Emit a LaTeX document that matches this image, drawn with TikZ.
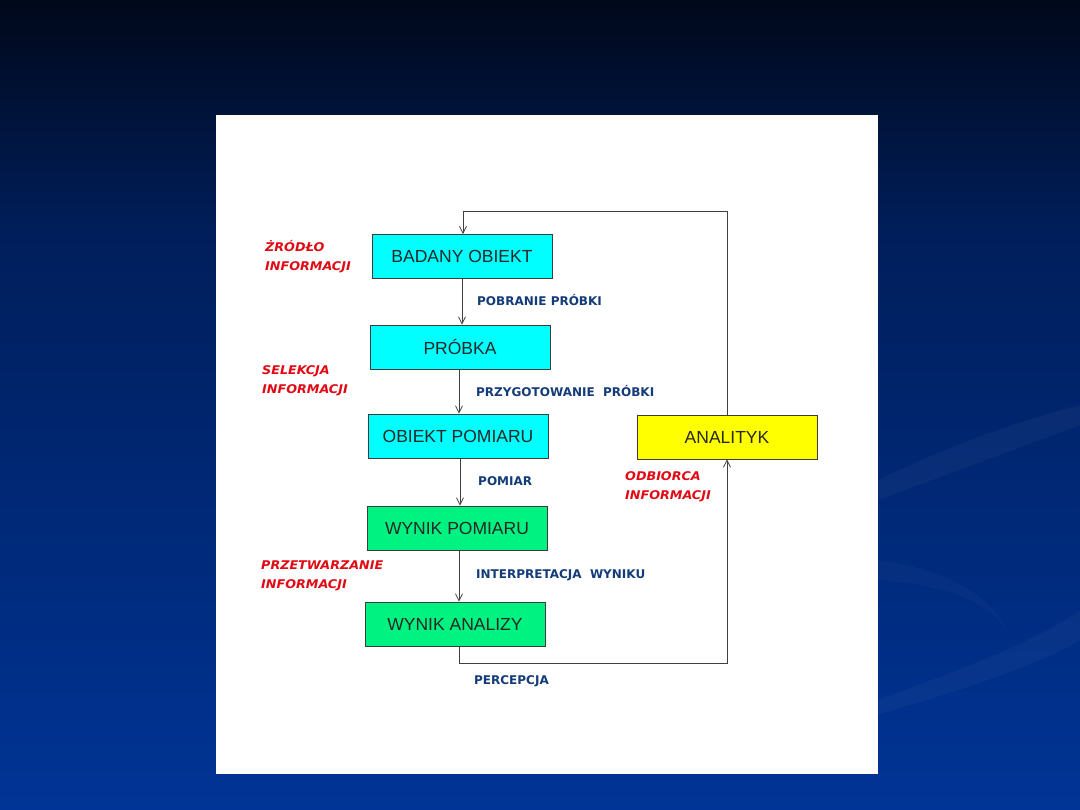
\documentclass[tikz,border=0pt]{standalone}
\usepackage{fontspec}
\setmainfont{Liberation Sans}
\newfontfamily\boxfont{Liberation Sans}
\newfontfamily\lblfont{DejaVu Sans}
\newfontfamily\rolefont[FakeStretch=1.06]{DejaVu Sans}
\usetikzlibrary{arrows.meta,positioning}
\definecolor{bgtop}{RGB}{0,8,26}
\definecolor{bgmid}{RGB}{0,30,90}
\definecolor{bgbot}{RGB}{0,52,150}
\definecolor{boxcyan}{RGB}{0,255,255}
\definecolor{boxgreen}{RGB}{0,242,128}
\definecolor{boxyellow}{RGB}{255,255,0}
\definecolor{lblblue}{RGB}{20,60,120}
\definecolor{lblred}{RGB}{225,10,20}
\definecolor{edge}{RGB}{60,60,60}
\tikzset{
  stagebox/.style={draw=edge, line width=0.8pt, minimum width=180pt, minimum height=44pt,
    inner sep=0pt, font=\boxfont\fontsize{17.5}{20}\selectfont, text=black!85},
  flowlabel/.style={anchor=west, inner sep=0pt, text=lblblue,
    font=\lblfont\bfseries\fontsize{12}{14}\selectfont},
  rolelabel/.style={anchor=north west, inner sep=0pt, text=lblred, align=left,
    font=\rolefont\bfseries\itshape\fontsize{12}{19}\selectfont},
  flow/.style={draw=black!75, line width=0.8pt, -{Straight Barb[length=7pt,width=7pt]}},
}
\begin{document}
\begin{tikzpicture}[x=1pt,y=-1pt]
\useasboundingbox (0,0) rectangle (1080,810);
% background
\shade[top color=bgtop, bottom color=bgmid] (0,0) rectangle (1080,230);
\shade[top color=bgmid, bottom color=bgbot] (0,230) rectangle (1080,810);
% faint swooshes
\fill[white, opacity=0.035] (878,480) .. controls (960,440) and (1040,415) .. (1080,405)
  -- (1080,425) .. controls (1040,440) and (960,470) .. (878,500) -- cycle;
\fill[white, opacity=0.03] (878,700) .. controls (960,670) and (1040,640) .. (1080,610)
  -- (1080,640) .. controls (1040,665) and (960,690) .. (878,715) -- cycle;
\fill[white, opacity=0.025] (878,560) .. controls (950,570) and (1000,600) .. (1010,640)
  .. controls (1000,605) and (950,585) .. (878,580) -- cycle;
% white panel
\fill[white] (216,115) rectangle (878,774);
% boxes
\node[stagebox, fill=boxcyan] (bo) at (462,256.5) {BADANY OBIEKT};
\node[stagebox, fill=boxcyan] (pr) at (460,347) {PRÓBKA};
\node[stagebox, fill=boxcyan] (op) at (458,436) {OBIEKT POMIARU};
\node[stagebox, fill=boxgreen] (wp) at (457,528) {WYNIK POMIARU};
\node[stagebox, fill=boxgreen] (wa) at (455,624) {WYNIK ANALIZY};
\node[stagebox, fill=boxyellow] (an) at (727,437) {ANALITYK};
% arrows
\draw[flow] (bo.south) -- (bo.south |- pr.north);
\draw[flow] ([xshift=-1pt]pr.south) -- ([xshift=-1pt]pr.south |- op.north);
\draw[flow] ([xshift=2pt]op.south) -- ([xshift=2pt]op.south |- wp.north);
\draw[flow] ([xshift=2pt]wp.south) -- ([xshift=2pt]wp.south |- wa.north);
\coordinate (tl) at (463,211);
\coordinate (br) at (459,663);
\draw[flow] (an.north) |- (tl) -- (tl |- bo.north);
\draw[flow] (br |- wa.south) -- (br) -| (an.south);
% flow labels
\node[flowlabel] (l1) at (477,300) {POBRANIE PRÓBKI};
\node[flowlabel] (l2) at (476,391) {PRZYGOTOWANIE\ \ PRÓBKI};
\node[flowlabel] (l3) at (478,481) {POMIAR};
\node[flowlabel] (l4) at (476,575) {INTERPRETACJA\ \ WYNIKU};
\node[flowlabel] (l5) at (474,681) {PERCEPCJA};
% role labels
\node[rolelabel] (r1) at (265,240) {ŻRÓDŁO\\INFORMACJI};
\node[rolelabel] (r2) at (262,365) {SELEKCJA\\INFORMACJI};
\node[rolelabel] (r3) at (261,561) {PRZETWARZANIE\\INFORMACJI};
\node[rolelabel] (r4) at (625,471) {ODBIORCA\\INFORMACJI};
\end{tikzpicture}
\end{document}
